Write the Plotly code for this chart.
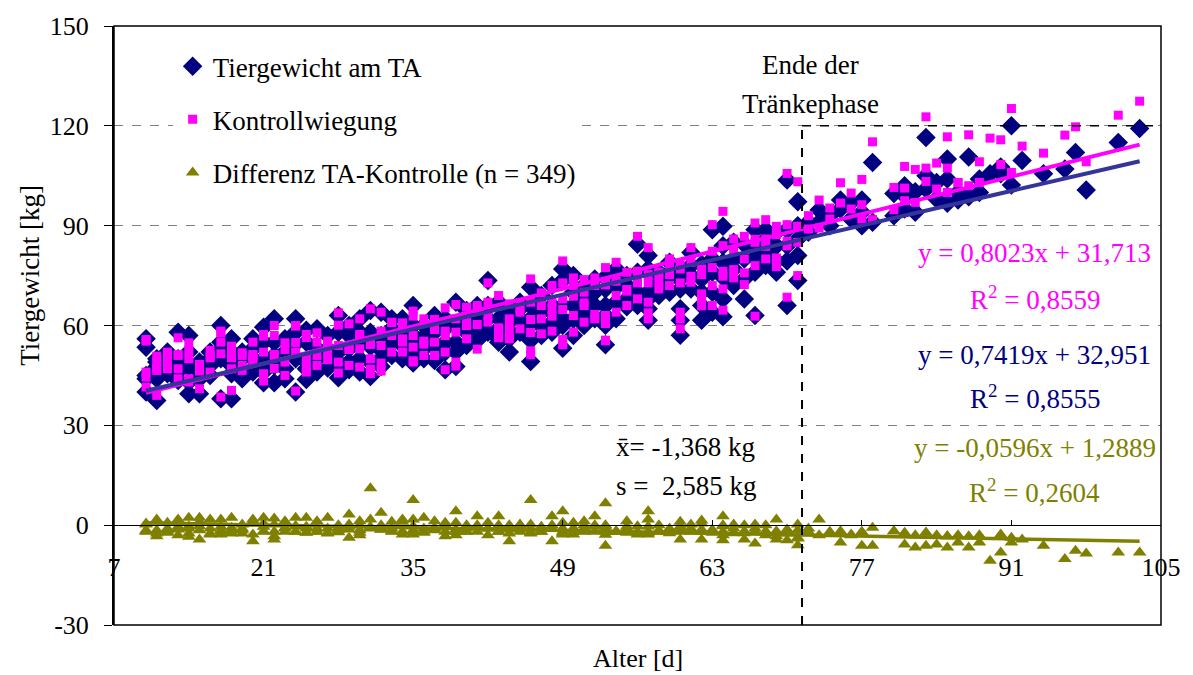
import plotly.graph_objects as go

# Alter der Kälber [d] je Wiegung
alter = [
    10, 10, 10, 10, 10,
    11, 11, 11, 11, 11,
    12, 12, 12, 12, 12,
    13, 13, 13, 13, 13,
    14, 14, 14, 14, 14,
    15, 15, 15, 15, 15,
    16, 16, 16, 16,
    17, 17, 17, 17, 17,
    18, 18, 18, 18, 18,
    19, 19, 19, 19,
    20, 20, 20, 20, 20,
    21, 21, 21, 21, 21,
    22, 22, 22, 22, 22,
    23, 23, 23, 23,
    24, 24, 24, 24, 24,
    25, 25, 25, 25, 25,
    26, 26, 26, 26,
    27, 27, 27, 27,
    28, 28, 28, 28, 28,
    29, 29, 29, 29, 29,
    30, 30, 30, 30, 30,
    31, 31, 31, 31, 31, 31,
    32, 32, 32, 32, 32,
    33, 33, 33, 33,
    34, 34, 34, 34, 34,
    35, 35, 35, 35, 35, 35,
    36, 36, 36, 36,
    37, 37, 37, 37,
    38, 38, 38, 38, 38,
    39, 39, 39, 39, 39,
    40, 40, 40, 40,
    41, 41, 41, 41,
    42, 42, 42, 42,
    43, 43, 43, 43, 43,
    44, 44, 44, 44, 44,
    45, 45, 45, 45,
    46, 46, 46, 46, 46, 46,
    47, 47, 47, 47,
    48, 48, 48, 48, 48,
    49, 49, 49, 49, 49, 49,
    50, 50, 50, 50, 50,
    51, 51, 51, 51, 51,
    52, 52, 52, 52,
    53, 53, 53, 53, 53, 53, 53,
    54, 54, 54, 54,
    55, 55, 55, 55,
    56, 56, 56, 56,
    57, 57, 57, 57, 57, 57,
    58, 58, 58, 58,
    59, 59, 59, 59,
    60, 60, 60, 60, 60, 60,
    61, 61, 61, 61,
    62, 62, 62, 62, 62,
    63, 63, 63, 63, 63,
    64, 64, 64, 64, 64, 64,
    65, 65, 65, 65,
    66, 66, 66, 66,
    67, 67, 67, 67, 67,
    68, 68, 68, 68,
    69, 69, 69, 69,
    70, 70, 70, 70, 70,
    71, 71, 71, 71, 71,
    72, 72,
    73, 73,
    74, 74,
    75, 75,
    76, 76,
    77, 77, 77,
    78, 78,
    80, 80,
    81, 81, 81,
    82, 82,
    83, 83, 83,
    84, 84,
    85, 85, 85,
    86, 86,
    87, 87,
    88, 88,
    89,
    90, 90,
    91, 91,
    92,
    94,
    96,
    97,
    98,
    101,
    103,
]

# Tiergewicht laut Tränkeautomat [kg]
ta_gewicht = [
    56, 53.5, 44, 40, 45,
    49, 47.5, 37.5, 44, 50,
    52, 48, 45.5, 47, 50,
    58, 50, 48, 46, 43.5,
    57, 52, 47.5, 43, 39.5,
    49, 46, 44, 39.5, 48,
    52, 48, 45, 50,
    60, 55, 50, 38, 53,
    56, 52, 48, 45.5, 38,
    52, 46.5, 50, 44,
    53, 47, 46, 56, 50,
    59.5, 55, 50, 42.8, 46,
    51, 48, 42.8, 62, 55,
    56, 52, 47, 44,
    62, 54.6, 40, 50, 58,
    58.6, 55, 49, 43.8, 47,
    59, 53, 50, 46,
    57, 53, 47.2, 51,
    63, 58, 44.3, 52, 49,
    57, 53, 49, 46.7, 60,
    58, 55, 50, 46, 62,
    64.5, 58, 56, 53.7, 44.7, 49,
    64, 57, 52.6, 47.7, 50,
    59.1, 55, 51, 62,
    62, 58, 54, 50, 56,
    66, 60, 55, 48.7, 52, 57,
    56.6, 53, 60, 50,
    63, 58, 54, 49.5,
    59, 62, 46.7, 55, 52,
    67, 60, 55, 47.7, 52,
    64.5, 58, 54, 61,
    55.6, 60, 63, 66,
    73.5, 62, 58, 66,
    62, 56, 55, 67, 59,
    58.1, 64, 61, 56, 52,
    67, 62, 58, 65,
    71.5, 62, 55.6, 49.2, 60, 66,
    69, 64, 60, 57,
    61, 66, 72, 58, 64,
    77, 73.5, 66, 62, 53.2, 60,
    75, 70, 66, 62, 57,
    68, 72, 64, 60, 70,
    66, 74, 62, 70,
    74.5, 71, 63, 60.1, 54.2, 66, 62,
    77, 71.5, 67, 62,
    72, 68, 65.6, 75,
    84.4, 76, 70, 66,
    81, 77, 70, 65, 61.6, 68,
    76, 72, 69, 74,
    76, 74, 70, 79,
    74, 71, 65, 61.6, 57.1, 76,
    81.9, 75, 71, 78,
    78.4, 74, 70, 61.6, 66,
    88.8, 80, 76, 70, 64,
    89.8, 79, 74.5, 68, 62.6, 84,
    80, 77, 85, 72,
    84.4, 74, 68, 80,
    88.8, 80.4, 63, 84, 76,
    88.8, 82, 78, 86,
    84, 79.4, 88, 76,
    103.7, 88.8, 79.4, 66, 84,
    97.2, 86, 81, 73.5, 90,
    91, 88,
    94.7, 91,
    93, 90,
    97.7, 95,
    97, 92,
    97.7, 94, 90,
    109, 91,
    99.7, 93,
    102, 99, 95,
    100.2, 94,
    116.5, 105, 101,
    103, 98,
    110, 104, 96.7,
    97.7, 100,
    110.6, 98.7,
    104, 100,
    105.6,
    105.6, 107.6,
    120, 102.2,
    109.6,
    105.6,
    107,
    112,
    100.7,
    115,
    119.2,
]

# Gewicht der Kontrollwiegung [kg]
kontrollwiegung = [
    55.8, 55.3, 46, 41.5, 44.5,
    47.3, 50.8, 39, 46.5, 49,
    51.3, 50.3, 47, 48, 52,
    56.3, 51.3, 51, 47, 44,
    54.8, 52.3, 50, 44, 43,
    46.8, 46.3, 48.3, 41, 47,
    50.3, 50.8, 46, 52.5,
    58.3, 57.8, 51.5, 38.5, 55,
    53.8, 52.8, 50.3, 47, 40.5,
    51.8, 48, 51, 46.5,
    51.3, 49.8, 50.8, 55, 49.5,
    57.3, 56.8, 52, 43.3, 45.5,
    50.8, 51.3, 47.1, 60, 57,
    54.8, 52.8, 49, 45,
    59.8, 54.9, 40.3, 52, 60,
    56.4, 57.3, 50, 46, 47.5,
    57.8, 55, 51, 48,
    54.8, 55.3, 49.7, 52,
    63.8, 60.1, 45.7, 54, 49,
    53.8, 52.8, 52.8, 48, 60.5,
    56.8, 57.3, 53, 47.5, 62,
    65, 46.9, 54.3, 54.5, 45.5, 50,
    64, 58.3, 54, 48.7, 46.3,
    60.9, 57, 52, 61,
    60.3, 60.8, 56, 52, 55,
    64.3, 62.8, 57, 49, 53.5, 49.4,
    54.4, 55.3, 62, 51,
    61.8, 58.8, 55, 51,
    58.3, 65.3, 46.7, 57, 52,
    66.3, 62, 58, 49, 47.8,
    65.5, 60, 56, 61,
    52.9, 60.3, 65, 66,
    72.8, 63, 61, 67,
    59.3, 56.3, 57, 69, 59,
    59.4, 66.5, 62, 56, 56.8,
    66.8, 64, 59, 65,
    74, 61.8, 57.9, 51.2, 52.4, 67,
    69.8, 66, 62, 57.5,
    58.3, 67, 72, 62.8, 65,
    79.4, 72.8, 68, 64.8, 54.2, 55.8,
    74.3, 72, 68.8, 63, 58,
    66.8, 73.8, 66, 61, 70,
    63.3, 74.3, 62, 72,
    77.4, 73, 63, 60.6, 55.6, 72.2, 55.4,
    79, 73.3, 69, 64,
    70.8, 70.3, 66, 76,
    86.8, 76.3, 72.8, 68,
    83.4, 75.3, 72.8, 67, 62, 63.8,
    76, 73.5, 71, 76,
    78.4, 75.3, 72, 80,
    78.3, 72.8, 64, 62, 59, 77,
    83.4, 74.8, 73, 79,
    77, 75.3, 69.5, 65.9, 68,
    90.3, 82.3, 77.4, 72, 66,
    94.3, 76.3, 74.8, 71, 64.6, 84,
    82.4, 76.8, 86, 74.3,
    86.8, 75.8, 72.3, 80,
    90.8, 85.9, 62.8, 85, 78,
    91.8, 83.8, 80, 86,
    87.3, 77.7, 89.8, 80.3,
    105.7, 90.3, 83.9, 68.5, 85.3,
    103.2, 89.8, 85, 75, 89.8,
    93, 89,
    97.7, 89.3,
    95.3, 92,
    102.9, 96.8,
    99.8, 95,
    103.9, 96.3, 92,
    115.2, 91.8,
    101.5, 94.8,
    107.8, 101.3, 97.5,
    106.9, 97,
    122.7, 107.3, 103.3,
    108.8, 101,
    116.7, 107.3, 100,
    102.9, 103,
    117.3, 102,
    109.2, 103,
    116.3,
    108.4, 115.8,
    125.2, 106,
    113.9,
    111.8,
    117.2,
    119.7,
    109.2,
    123.2,
    127.4,
]

assert len(alter) == len(ta_gewicht) == len(kontrollwiegung)

# Differenz TA - Kontrolle je Tier
differenz = [round(t - k, 2) for t, k in zip(ta_gewicht, kontrollwiegung)]

# Lineare Trends (Steigung, Achsenabschnitt) und Bestimmtheitsmaße
trend_kontrolle = (0.8023, 31.713)
trend_ta = (0.7419, 32.951)
trend_differenz = (-0.0596, 1.2889)
r2_kontrolle = "0,8559"
r2_ta = "0,8555"
r2_differenz = "0,2604"

mittelwert_diff = "-1,368"
std_diff = "2,585"

ende_traenkephase = 71.4

x_ticks = [7, 21, 35, 49, 63, 77, 91, 105]
y_ticks = [-30, 0, 30, 60, 90, 120, 150]

NAVY = "#000080"
MAGENTA = "#FF00FF"
OLIVE = "#808000"
TREND_BLUE = "#35349A"
FONT = "Liberation Serif"
TXT = 27

x_line = [min(alter), max(alter)]


def trend_y(coef):
    m, b = coef
    return [m * x + b for x in x_line]


def de(v):
    return str(v).replace(".", ",")


fig = go.Figure()

fig.add_trace(go.Scatter(
    x=alter, y=ta_gewicht, mode="markers", name="Tiergewicht am TA",
    legendgroup="a",
    marker=dict(symbol="diamond", size=15, color=NAVY, line=dict(width=0)),
))
fig.add_trace(go.Scatter(
    x=alter, y=kontrollwiegung, mode="markers", name="Kontrollwiegung",
    legendgroup="b",
    marker=dict(symbol="square", size=9, color=MAGENTA, line=dict(width=0)),
))
fig.add_trace(go.Scatter(
    x=alter, y=differenz, mode="markers",
    name="Differenz TA-Kontrolle (n = 349)", legendgroup="c",
    marker=dict(symbol="triangle-up", size=12, color=OLIVE, line=dict(width=0)),
))

fig.add_trace(go.Scatter(x=x_line, y=trend_y(trend_kontrolle), mode="lines",
                         line=dict(color=MAGENTA, width=4), showlegend=False,
                         hoverinfo="skip"))
fig.add_trace(go.Scatter(x=x_line, y=trend_y(trend_ta), mode="lines",
                         line=dict(color=TREND_BLUE, width=4), showlegend=False,
                         hoverinfo="skip"))
fig.add_trace(go.Scatter(x=x_line, y=trend_y(trend_differenz), mode="lines",
                         line=dict(color=OLIVE, width=3.5), showlegend=False,
                         hoverinfo="skip"))

# Ende der Tränkephase
fig.add_shape(type="line", x0=ende_traenkephase, x1=ende_traenkephase,
              y0=-30, y1=120, line=dict(color="black", width=2, dash="dash"))
fig.add_shape(type="line", x0=ende_traenkephase, x1=105, y0=120, y1=120,
              line=dict(color="black", width=1.5, dash="dash"))
# Rahmen der Zeichenfläche
fig.add_shape(type="rect", xref="paper", yref="paper", x0=0, x1=1, y0=0, y1=1,
              line=dict(color="black", width=1.5), layer="above")


def note(text, x, y, color="black", size=TXT, xanchor="center"):
    fig.add_annotation(x=x, y=y, text=text, showarrow=False, xanchor=xanchor,
                       yanchor="middle", font=dict(family=FONT, size=size, color=color))


eq_x = 93.2
note(f"y = {de(trend_kontrolle[0])}x + {de(trend_kontrolle[1])}", eq_x, 81.9, MAGENTA)
note(f"R<sup>2</sup> = {r2_kontrolle}", eq_x, 68.2, MAGENTA)
note(f"y = {de(trend_ta[0])}x + {de(trend_ta[1])}", eq_x, 51.1, NAVY)
note(f"R<sup>2</sup> = {r2_ta}", eq_x, 38.5, NAVY)
note(f"y = {de(trend_differenz[0])}x + {de(trend_differenz[1])}", eq_x, 23.2, OLIVE)
note(f"R<sup>2</sup> = {r2_differenz}", eq_x, 10.3, OLIVE)

note(f"x\u0304= {mittelwert_diff} kg", 53.8, 23.5, xanchor="left")
note(f"s =  {std_diff} kg", 53.8, 11.9, xanchor="left")

note("Ende der", 72.2, 138.4)
note("Tränkephase", 72.2, 126.6)

# Achsentitel
fig.add_annotation(x=0.5, y=-0.0563, xref="paper", yref="paper", text="Alter [d]",
                   xanchor="center", yanchor="middle", showarrow=False,
                   font=dict(family=FONT, size=26, color="black"))
fig.add_annotation(x=-0.0797, y=0.584, xref="paper", yref="paper",
                   text="Tiergewicht [kg]", textangle=-90, showarrow=False,
                   xanchor="center", yanchor="middle",
                   font=dict(family=FONT, size=TXT, color="black"))

fig.update_layout(
    width=1193, height=675,
    margin=dict(l=114, r=25, t=19, b=50),
    paper_bgcolor="white", plot_bgcolor="white",
    font=dict(family=FONT, size=26, color="black"),
    showlegend=True,
    legend=dict(
        x=0.056, y=0.973, xanchor="left", yanchor="top",
        bgcolor="rgba(255,255,255,1)", borderwidth=0,
        font=dict(family=FONT, size=TXT, color="black"),
        traceorder="grouped", tracegroupgap=15, itemsizing="trace",
    ),
    xaxis=dict(
        range=[7, 105], anchor="free", position=1 / 6,
        tickmode="array", tickvals=x_ticks, ticktext=[str(v) for v in x_ticks],
        showline=True, linecolor="black", linewidth=1,
        ticks="inside", ticklen=5, tickcolor="black",
        showgrid=False, zeroline=False,
        tickfont=dict(family=FONT, size=26), ticklabelstandoff=19,
    ),
    yaxis=dict(
        range=[-30, 150], tickmode="array", tickvals=y_ticks,
        ticktext=[str(v) for v in y_ticks],
        showline=True, linecolor="black", linewidth=2,
        ticks="outside", ticklen=8, tickcolor="black",
        showgrid=True, gridcolor="#808080", griddash="dash", gridwidth=1,
        zeroline=False, tickfont=dict(family=FONT, size=26),
        ticklabelstandoff=10,
    ),
)

fig.write_html("out.html")
